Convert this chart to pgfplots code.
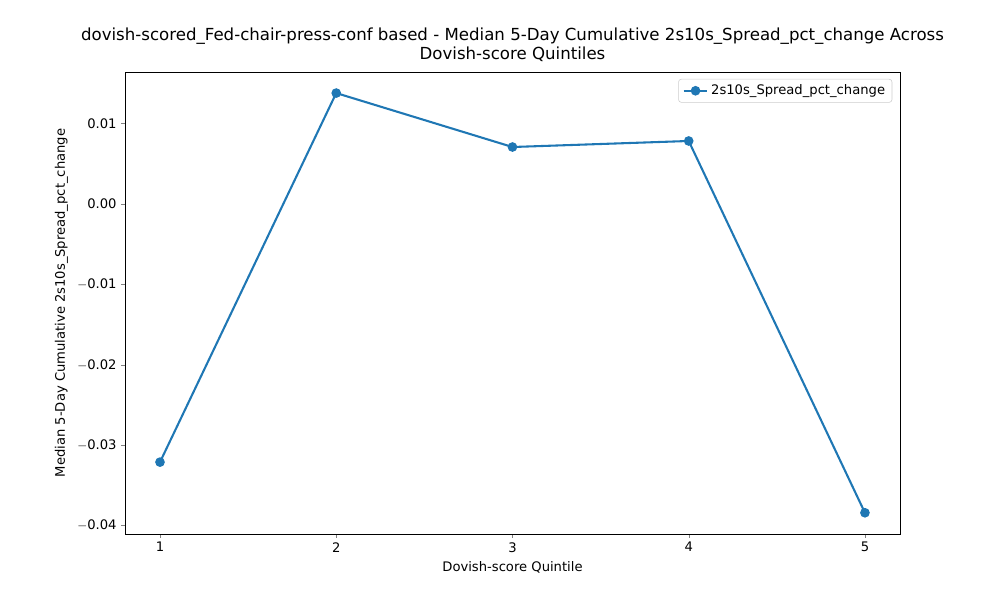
\documentclass[border=0pt]{standalone}
\usepackage{pgfplots}
\pgfplotsset{compat=1.18}
\usepackage{fontspec}
\setmainfont{DejaVu Sans}
\definecolor{mplblue}{HTML}{1F77B4}
\begin{document}
\begin{tikzpicture}
\begin{axis}[
  scale only axis, width=7.75in, height=4.62in,
  xmin=0.8014, xmax=5.199, ymin=-0.04104, ymax=0.01642,
  xtick={1,2,3,4,5},
  ytick={-0.04,-0.03,-0.02,-0.01,0,0.01},
  yticklabels={$-$0.04,$-$0.03,$-$0.02,$-$0.01,0.00,0.01},
  scaled y ticks=false,
  /pgf/number format/assume math mode=true,
  tick label style={font=\fontsize{9.5}{11}\selectfont},
  label style={font=\fontsize{9.5}{11}\selectfont},
  tick align=outside, tick pos=left,
  major tick length=0.035in,
  xlabel={Dovish-score Quintile},
  ylabel={Median 5-Day Cumulative 2s10s\_Spread\_pct\_change},
  title={dovish-scored\_Fed-chair-press-conf based - Median 5-Day Cumulative 2s10s\_Spread\_pct\_change Across\\Dovish-score Quintiles},
  title style={font=\fontsize{12}{14}\selectfont, align=center, yshift=-2pt},
  legend style={font=\fontsize{9.5}{11}\selectfont, draw=black!20, rounded corners=2pt, at={(0.99,0.985)}, anchor=north east},
  legend cell align=left,
  clip=false,
]
\addplot[mplblue, line width=1.5pt, mark=*, mark size=2.7pt] coordinates {
(1,-0.0321) (2,0.0138) (3,0.00709) (4,0.00784) (5,-0.0384)};
\addlegendentry{2s10s\_Spread\_pct\_change}
\path (rel axis cs:0,0) ++(-1.25in,-0.66in) coordinate (bl);
\path (rel axis cs:1,1) ++(1.0in,0.72in) coordinate (tr);
\end{axis}
\useasboundingbox (bl) rectangle (tr);
\end{tikzpicture}
\end{document}
